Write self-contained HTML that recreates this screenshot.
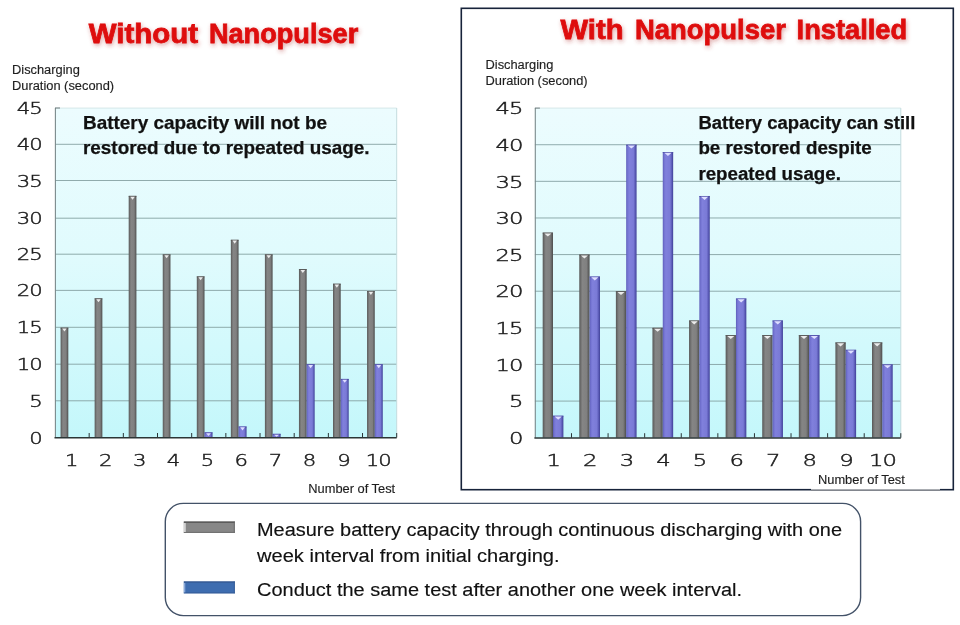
<!DOCTYPE html>
<html lang="en"><head><meta charset="utf-8"><title>Nanopulser battery test</title>
<style>html,body{margin:0;padding:0;background:#fff}svg{display:block}</style>
</head><body>
<svg width="960" height="625" viewBox="0 0 960 625">
<defs>
<linearGradient id="bg" x1="0" y1="0" x2="0" y2="1"><stop offset="0" stop-color="#ecfcfe"/><stop offset="0.45" stop-color="#e0fbfd"/><stop offset="1" stop-color="#c4f7fb"/></linearGradient>
<linearGradient id="gG" x1="0" y1="0" x2="1" y2="0"><stop offset="0" stop-color="#565656"/><stop offset="0.14" stop-color="#6e6e6e"/><stop offset="0.3" stop-color="#858585"/><stop offset="0.7" stop-color="#808080"/><stop offset="0.86" stop-color="#666"/><stop offset="1" stop-color="#4c4c4c"/></linearGradient>
<linearGradient id="gB" x1="0" y1="0" x2="1" y2="0"><stop offset="0" stop-color="#5d5db8"/><stop offset="0.14" stop-color="#7474d2"/><stop offset="0.3" stop-color="#8080dc"/><stop offset="0.7" stop-color="#7a7ad6"/><stop offset="0.86" stop-color="#5c5cb8"/><stop offset="1" stop-color="#3e3e96"/></linearGradient>
<filter id="glow" x="-10%" y="-40%" width="120%" height="200%"><feGaussianBlur in="SourceAlpha" stdDeviation="1.9" result="b"/><feOffset in="b" dx="0.6" dy="1.6" result="o"/><feFlood flood-color="#b03030" flood-opacity="0.42"/><feComposite in2="o" operator="in" result="s"/><feMerge><feMergeNode in="s"/><feMergeNode in="SourceGraphic"/></feMerge></filter>
</defs>
<style>
text{font-family:"Liberation Sans",sans-serif;fill:#1a1a1a}
.num{font-family:"DejaVu Sans","Liberation Sans",sans-serif;font-weight:200;font-size:15.7px;fill:#1c1c1c;stroke:#1c1c1c;stroke-width:0.42px;letter-spacing:-0.7px}
.ax{font-size:12.85px;fill:#1e1e1e;stroke:#1e1e1e;stroke-width:0.15px}
.ttl{font-weight:bold;font-size:27.8px;fill:#de0c0c;stroke:#de0c0c;stroke-width:0.8px}
.note{font-weight:bold;font-size:17.9px;fill:#111;stroke:#111;stroke-width:0.25px}
.leg{font-size:18.8px;fill:#111;stroke:#111;stroke-width:0.15px}
</style>
<rect width="960" height="625" fill="#fff"/>

<rect x="461.3" y="8.3" width="492" height="481.4" fill="#fff" stroke="#17233a" stroke-width="1.6"/>
<rect x="811" y="470" width="129" height="22" fill="#fff"/>
<line x1="811" y1="490.1" x2="940" y2="490.1" stroke="#2e3542" stroke-width="1"/>
<rect x="55" y="108" width="341.7" height="329.5" fill="url(#bg)"/>
<line x1="55" y1="400.8" x2="396.7" y2="400.8" stroke="#86a2a3" stroke-width="0.9"/>
<line x1="55" y1="364.2" x2="396.7" y2="364.2" stroke="#86a2a3" stroke-width="0.9"/>
<line x1="55" y1="327.3" x2="396.7" y2="327.3" stroke="#86a2a3" stroke-width="0.9"/>
<line x1="55" y1="290.4" x2="396.7" y2="290.4" stroke="#86a2a3" stroke-width="0.9"/>
<line x1="55" y1="254.2" x2="396.7" y2="254.2" stroke="#86a2a3" stroke-width="0.9"/>
<line x1="55" y1="218.2" x2="396.7" y2="218.2" stroke="#86a2a3" stroke-width="0.9"/>
<line x1="55" y1="180.5" x2="396.7" y2="180.5" stroke="#86a2a3" stroke-width="0.9"/>
<line x1="55" y1="144.3" x2="396.7" y2="144.3" stroke="#86a2a3" stroke-width="0.9"/>
<line x1="55" y1="108.1" x2="396.7" y2="108.1" stroke="#d3e4e5" stroke-width="0.9"/>
<line x1="396.7" y1="108" x2="396.7" y2="437.5" stroke="#c3dcde" stroke-width="1"/>
<line x1="89.17" y1="433" x2="89.17" y2="437.5" stroke="#2a3436" stroke-width="1"/>
<line x1="123.34" y1="433" x2="123.34" y2="437.5" stroke="#2a3436" stroke-width="1"/>
<line x1="157.51" y1="433" x2="157.51" y2="437.5" stroke="#2a3436" stroke-width="1"/>
<line x1="191.68" y1="433" x2="191.68" y2="437.5" stroke="#2a3436" stroke-width="1"/>
<line x1="225.85" y1="433" x2="225.85" y2="437.5" stroke="#2a3436" stroke-width="1"/>
<line x1="260.02" y1="433" x2="260.02" y2="437.5" stroke="#2a3436" stroke-width="1"/>
<line x1="294.19" y1="433" x2="294.19" y2="437.5" stroke="#2a3436" stroke-width="1"/>
<line x1="328.36" y1="433" x2="328.36" y2="437.5" stroke="#2a3436" stroke-width="1"/>
<line x1="362.53" y1="433" x2="362.53" y2="437.5" stroke="#2a3436" stroke-width="1"/>
<line x1="396.7" y1="433" x2="396.7" y2="437.5" stroke="#2a3436" stroke-width="1"/>
<rect x="60.6" y="327.67" width="7.7" height="109.83" fill="url(#gG)"/><rect x="60.6" y="327.67" width="7.7" height="0.9" fill="#565656"/><path d="M62.2 328.47 L66.7 328.47 L64.45 331.57 Z" fill="#ececec"/>
<rect x="94.65" y="298.38" width="7.7" height="139.12" fill="url(#gG)"/><rect x="94.65" y="298.38" width="7.7" height="0.9" fill="#565656"/><path d="M96.25 299.18 L100.75 299.18 L98.5 302.28 Z" fill="#ececec"/>
<rect x="128.7" y="195.87" width="7.7" height="241.63" fill="url(#gG)"/><rect x="128.7" y="195.87" width="7.7" height="0.9" fill="#565656"/><path d="M130.3 196.67 L134.8 196.67 L132.55 199.77 Z" fill="#ececec"/>
<rect x="162.75" y="254.44" width="7.7" height="183.06" fill="url(#gG)"/><rect x="162.75" y="254.44" width="7.7" height="0.9" fill="#565656"/><path d="M164.35 255.24 L168.85 255.24 L166.6 258.34 Z" fill="#ececec"/>
<rect x="196.8" y="276.41" width="7.7" height="161.09" fill="url(#gG)"/><rect x="196.8" y="276.41" width="7.7" height="0.9" fill="#565656"/><path d="M198.4 277.21 L202.9 277.21 L200.65 280.31 Z" fill="#ececec"/>
<rect x="204.5" y="432.37" width="8" height="5.13" fill="url(#gB)"/><rect x="204.5" y="432.37" width="8" height="0.9" fill="#5050a8"/><path d="M206.1 433.17 L210.9 433.17 L208.5 436.09 Z" fill="#dedeff"/>
<rect x="230.85" y="239.8" width="7.7" height="197.7" fill="url(#gG)"/><rect x="230.85" y="239.8" width="7.7" height="0.9" fill="#565656"/><path d="M232.45 240.6 L236.95 240.6 L234.7 243.7 Z" fill="#ececec"/>
<rect x="238.55" y="426.52" width="8" height="10.98" fill="url(#gB)"/><rect x="238.55" y="426.52" width="8" height="0.9" fill="#5050a8"/><path d="M240.15 427.32 L244.95 427.32 L242.55 430.42 Z" fill="#dedeff"/>
<rect x="264.9" y="254.44" width="7.7" height="183.06" fill="url(#gG)"/><rect x="264.9" y="254.44" width="7.7" height="0.9" fill="#565656"/><path d="M266.5 255.24 L271 255.24 L268.75 258.34 Z" fill="#ececec"/>
<rect x="272.6" y="433.84" width="8" height="3.66" fill="url(#gB)"/><rect x="272.6" y="433.84" width="8" height="0.9" fill="#5050a8"/><path d="M274.2 434.64 L279 434.64 L276.6 436.75 Z" fill="#dedeff"/>
<rect x="298.95" y="269.09" width="7.7" height="168.41" fill="url(#gG)"/><rect x="298.95" y="269.09" width="7.7" height="0.9" fill="#565656"/><path d="M300.55 269.89 L305.05 269.89 L302.8 272.99 Z" fill="#ececec"/>
<rect x="306.65" y="364.28" width="8" height="73.22" fill="url(#gB)"/><rect x="306.65" y="364.28" width="8" height="0.9" fill="#5050a8"/><path d="M308.25 365.08 L313.05 365.08 L310.65 368.18 Z" fill="#dedeff"/>
<rect x="333" y="283.73" width="7.7" height="153.77" fill="url(#gG)"/><rect x="333" y="283.73" width="7.7" height="0.9" fill="#565656"/><path d="M334.6 284.53 L339.1 284.53 L336.85 287.63 Z" fill="#ececec"/>
<rect x="340.7" y="378.92" width="8" height="58.58" fill="url(#gB)"/><rect x="340.7" y="378.92" width="8" height="0.9" fill="#5050a8"/><path d="M342.3 379.72 L347.1 379.72 L344.7 382.82 Z" fill="#dedeff"/>
<rect x="367.05" y="291.06" width="7.7" height="146.44" fill="url(#gG)"/><rect x="367.05" y="291.06" width="7.7" height="0.9" fill="#565656"/><path d="M368.65 291.86 L373.15 291.86 L370.9 294.96 Z" fill="#ececec"/>
<rect x="374.75" y="364.28" width="8" height="73.22" fill="url(#gB)"/><rect x="374.75" y="364.28" width="8" height="0.9" fill="#5050a8"/><path d="M376.35 365.08 L381.15 365.08 L378.75 368.18 Z" fill="#dedeff"/>
<line x1="55.4" y1="108" x2="55.4" y2="437.5" stroke="#7b8a8c" stroke-width="1.1"/>
<line x1="55" y1="108" x2="60" y2="108" stroke="#6f7b7c" stroke-width="1"/>
<line x1="54.5" y1="437.8" x2="396.7" y2="437.8" stroke="#2b3536" stroke-width="1.6"/>
<text class="num" transform="translate(41.9 443.5) scale(1.35 1)" text-anchor="end">0</text>
<text class="num" transform="translate(41.9 406.8) scale(1.35 1)" text-anchor="end">5</text>
<text class="num" transform="translate(41.9 370.2) scale(1.35 1)" text-anchor="end">10</text>
<text class="num" transform="translate(41.9 333.3) scale(1.35 1)" text-anchor="end">15</text>
<text class="num" transform="translate(41.9 296.4) scale(1.35 1)" text-anchor="end">20</text>
<text class="num" transform="translate(41.9 260.2) scale(1.35 1)" text-anchor="end">25</text>
<text class="num" transform="translate(41.9 224.2) scale(1.35 1)" text-anchor="end">30</text>
<text class="num" transform="translate(41.9 186.5) scale(1.35 1)" text-anchor="end">35</text>
<text class="num" transform="translate(41.9 150.3) scale(1.35 1)" text-anchor="end">40</text>
<text class="num" transform="translate(41.9 114.1) scale(1.35 1)" text-anchor="end">45</text>
<text class="num" transform="translate(71.29 465.6) scale(1.35 1)" text-anchor="middle">1</text>
<text class="num" transform="translate(105.35 465.6) scale(1.35 1)" text-anchor="middle">2</text>
<text class="num" transform="translate(139.33 465.6) scale(1.35 1)" text-anchor="middle">3</text>
<text class="num" transform="translate(172.9 465.6) scale(1.35 1)" text-anchor="middle">4</text>
<text class="num" transform="translate(207.07 465.6) scale(1.35 1)" text-anchor="middle">5</text>
<text class="num" transform="translate(240.84 465.6) scale(1.35 1)" text-anchor="middle">6</text>
<text class="num" transform="translate(275.11 465.6) scale(1.35 1)" text-anchor="middle">7</text>
<text class="num" transform="translate(309.08 465.6) scale(1.35 1)" text-anchor="middle">8</text>
<text class="num" transform="translate(343.44 465.6) scale(1.35 1)" text-anchor="middle">9</text>
<text class="num" transform="translate(378.31 465.6) scale(1.35 1)" text-anchor="middle">10</text>
<rect x="534.9" y="108.1" width="365.9" height="329.6" fill="url(#bg)"/>
<line x1="534.9" y1="401.08" x2="900.8" y2="401.08" stroke="#86a2a3" stroke-width="0.9"/>
<line x1="534.9" y1="364.46" x2="900.8" y2="364.46" stroke="#86a2a3" stroke-width="0.9"/>
<line x1="534.9" y1="327.83" x2="900.8" y2="327.83" stroke="#86a2a3" stroke-width="0.9"/>
<line x1="534.9" y1="291.21" x2="900.8" y2="291.21" stroke="#86a2a3" stroke-width="0.9"/>
<line x1="534.9" y1="254.59" x2="900.8" y2="254.59" stroke="#86a2a3" stroke-width="0.9"/>
<line x1="534.9" y1="217.97" x2="900.8" y2="217.97" stroke="#86a2a3" stroke-width="0.9"/>
<line x1="534.9" y1="181.34" x2="900.8" y2="181.34" stroke="#86a2a3" stroke-width="0.9"/>
<line x1="534.9" y1="144.72" x2="900.8" y2="144.72" stroke="#86a2a3" stroke-width="0.9"/>
<line x1="534.9" y1="108.1" x2="900.8" y2="108.1" stroke="#d3e4e5" stroke-width="0.9"/>
<line x1="900.8" y1="108.1" x2="900.8" y2="437.7" stroke="#c3dcde" stroke-width="1"/>
<line x1="571.49" y1="433.2" x2="571.49" y2="437.7" stroke="#2a3436" stroke-width="1"/>
<line x1="608.08" y1="433.2" x2="608.08" y2="437.7" stroke="#2a3436" stroke-width="1"/>
<line x1="644.67" y1="433.2" x2="644.67" y2="437.7" stroke="#2a3436" stroke-width="1"/>
<line x1="681.26" y1="433.2" x2="681.26" y2="437.7" stroke="#2a3436" stroke-width="1"/>
<line x1="717.85" y1="433.2" x2="717.85" y2="437.7" stroke="#2a3436" stroke-width="1"/>
<line x1="754.44" y1="433.2" x2="754.44" y2="437.7" stroke="#2a3436" stroke-width="1"/>
<line x1="791.03" y1="433.2" x2="791.03" y2="437.7" stroke="#2a3436" stroke-width="1"/>
<line x1="827.62" y1="433.2" x2="827.62" y2="437.7" stroke="#2a3436" stroke-width="1"/>
<line x1="864.21" y1="433.2" x2="864.21" y2="437.7" stroke="#2a3436" stroke-width="1"/>
<line x1="900.8" y1="433.2" x2="900.8" y2="437.7" stroke="#2a3436" stroke-width="1"/>
<rect x="542.69" y="232.62" width="10.3" height="205.08" fill="url(#gG)"/><rect x="542.69" y="232.62" width="10.3" height="0.9" fill="#565656"/><path d="M544.29 233.42 L551.39 233.42 L547.84 236.52 Z" fill="#ececec"/>
<rect x="552.99" y="415.73" width="10.4" height="21.97" fill="url(#gB)"/><rect x="552.99" y="415.73" width="10.4" height="0.9" fill="#5050a8"/><path d="M554.59 416.53 L561.79 416.53 L558.19 419.63 Z" fill="#dedeff"/>
<rect x="579.28" y="254.59" width="10.3" height="183.11" fill="url(#gG)"/><rect x="579.28" y="254.59" width="10.3" height="0.9" fill="#565656"/><path d="M580.88 255.39 L587.98 255.39 L584.43 258.49 Z" fill="#ececec"/>
<rect x="589.58" y="276.56" width="10.4" height="161.14" fill="url(#gB)"/><rect x="589.58" y="276.56" width="10.4" height="0.9" fill="#5050a8"/><path d="M591.18 277.36 L598.38 277.36 L594.78 280.46 Z" fill="#dedeff"/>
<rect x="615.88" y="291.21" width="10.3" height="146.49" fill="url(#gG)"/><rect x="615.88" y="291.21" width="10.3" height="0.9" fill="#565656"/><path d="M617.48 292.01 L624.57 292.01 L621.02 295.11 Z" fill="#ececec"/>
<rect x="626.17" y="144.72" width="10.4" height="292.98" fill="url(#gB)"/><rect x="626.17" y="144.72" width="10.4" height="0.9" fill="#5050a8"/><path d="M627.77 145.52 L634.98 145.52 L631.38 148.62 Z" fill="#dedeff"/>
<rect x="652.46" y="327.83" width="10.3" height="109.87" fill="url(#gG)"/><rect x="652.46" y="327.83" width="10.3" height="0.9" fill="#565656"/><path d="M654.06 328.63 L661.16 328.63 L657.61 331.73 Z" fill="#ececec"/>
<rect x="662.76" y="152.05" width="10.4" height="285.65" fill="url(#gB)"/><rect x="662.76" y="152.05" width="10.4" height="0.9" fill="#5050a8"/><path d="M664.36 152.85 L671.56 152.85 L667.96 155.95 Z" fill="#dedeff"/>
<rect x="689.06" y="320.51" width="10.3" height="117.19" fill="url(#gG)"/><rect x="689.06" y="320.51" width="10.3" height="0.9" fill="#565656"/><path d="M690.66 321.31 L697.75 321.31 L694.21 324.41 Z" fill="#ececec"/>
<rect x="699.36" y="195.99" width="10.4" height="241.71" fill="url(#gB)"/><rect x="699.36" y="195.99" width="10.4" height="0.9" fill="#5050a8"/><path d="M700.96 196.79 L708.16 196.79 L704.56 199.89 Z" fill="#dedeff"/>
<rect x="725.64" y="335.16" width="10.3" height="102.54" fill="url(#gG)"/><rect x="725.64" y="335.16" width="10.3" height="0.9" fill="#565656"/><path d="M727.25 335.96 L734.34 335.96 L730.79 339.06 Z" fill="#ececec"/>
<rect x="735.94" y="298.54" width="10.4" height="139.16" fill="url(#gB)"/><rect x="735.94" y="298.54" width="10.4" height="0.9" fill="#5050a8"/><path d="M737.54 299.34 L744.75 299.34 L741.14 302.44 Z" fill="#dedeff"/>
<rect x="762.24" y="335.16" width="10.3" height="102.54" fill="url(#gG)"/><rect x="762.24" y="335.16" width="10.3" height="0.9" fill="#565656"/><path d="M763.84 335.96 L770.93 335.96 L767.38 339.06 Z" fill="#ececec"/>
<rect x="772.53" y="320.51" width="10.4" height="117.19" fill="url(#gB)"/><rect x="772.53" y="320.51" width="10.4" height="0.9" fill="#5050a8"/><path d="M774.13 321.31 L781.34 321.31 L777.74 324.41 Z" fill="#dedeff"/>
<rect x="798.83" y="335.16" width="10.3" height="102.54" fill="url(#gG)"/><rect x="798.83" y="335.16" width="10.3" height="0.9" fill="#565656"/><path d="M800.43 335.96 L807.52 335.96 L803.98 339.06 Z" fill="#ececec"/>
<rect x="809.12" y="335.16" width="10.4" height="102.54" fill="url(#gB)"/><rect x="809.12" y="335.16" width="10.4" height="0.9" fill="#5050a8"/><path d="M810.73 335.96 L817.93 335.96 L814.33 339.06 Z" fill="#dedeff"/>
<rect x="835.41" y="342.48" width="10.3" height="95.22" fill="url(#gG)"/><rect x="835.41" y="342.48" width="10.3" height="0.9" fill="#565656"/><path d="M837.01 343.28 L844.11 343.28 L840.56 346.38 Z" fill="#ececec"/>
<rect x="845.71" y="349.81" width="10.4" height="87.89" fill="url(#gB)"/><rect x="845.71" y="349.81" width="10.4" height="0.9" fill="#5050a8"/><path d="M847.31 350.61 L854.51 350.61 L850.91 353.71 Z" fill="#dedeff"/>
<rect x="872" y="342.48" width="10.3" height="95.22" fill="url(#gG)"/><rect x="872" y="342.48" width="10.3" height="0.9" fill="#565656"/><path d="M873.61 343.28 L880.7 343.28 L877.15 346.38 Z" fill="#ececec"/>
<rect x="882.3" y="364.46" width="10.4" height="73.24" fill="url(#gB)"/><rect x="882.3" y="364.46" width="10.4" height="0.9" fill="#5050a8"/><path d="M883.9 365.26 L891.11 365.26 L887.5 368.36 Z" fill="#dedeff"/>
<line x1="535.3" y1="108.1" x2="535.3" y2="437.7" stroke="#7b8a8c" stroke-width="1.1"/>
<line x1="534.9" y1="108.1" x2="539.9" y2="108.1" stroke="#6f7b7c" stroke-width="1"/>
<line x1="534.4" y1="438" x2="900.8" y2="438" stroke="#2b3536" stroke-width="1.6"/>
<text class="num" transform="translate(522.4 443.9) scale(1.45 1)" text-anchor="end">0</text>
<text class="num" transform="translate(522.4 407.28) scale(1.45 1)" text-anchor="end">5</text>
<text class="num" transform="translate(522.4 370.66) scale(1.45 1)" text-anchor="end">10</text>
<text class="num" transform="translate(522.4 334.03) scale(1.45 1)" text-anchor="end">15</text>
<text class="num" transform="translate(522.4 297.41) scale(1.45 1)" text-anchor="end">20</text>
<text class="num" transform="translate(522.4 260.79) scale(1.45 1)" text-anchor="end">25</text>
<text class="num" transform="translate(522.4 224.17) scale(1.45 1)" text-anchor="end">30</text>
<text class="num" transform="translate(522.4 187.54) scale(1.45 1)" text-anchor="end">35</text>
<text class="num" transform="translate(522.4 150.92) scale(1.45 1)" text-anchor="end">40</text>
<text class="num" transform="translate(522.4 114.3) scale(1.45 1)" text-anchor="end">45</text>
<text class="num" transform="translate(553.19 465.8) scale(1.45 1)" text-anchor="middle">1</text>
<text class="num" transform="translate(589.78 465.8) scale(1.45 1)" text-anchor="middle">2</text>
<text class="num" transform="translate(626.38 465.8) scale(1.45 1)" text-anchor="middle">3</text>
<text class="num" transform="translate(662.96 465.8) scale(1.45 1)" text-anchor="middle">4</text>
<text class="num" transform="translate(699.56 465.8) scale(1.45 1)" text-anchor="middle">5</text>
<text class="num" transform="translate(736.14 465.8) scale(1.45 1)" text-anchor="middle">6</text>
<text class="num" transform="translate(772.74 465.8) scale(1.45 1)" text-anchor="middle">7</text>
<text class="num" transform="translate(809.33 465.8) scale(1.45 1)" text-anchor="middle">8</text>
<text class="num" transform="translate(845.91 465.8) scale(1.45 1)" text-anchor="middle">9</text>
<text class="num" transform="translate(882.5 465.8) scale(1.45 1)" text-anchor="middle">10</text>
<g filter="url(#glow)"><text class="ttl" x="88.7" y="43.4" textLength="109.3" lengthAdjust="spacingAndGlyphs">Without</text><text class="ttl" x="208.9" y="43.4" textLength="149.4" lengthAdjust="spacingAndGlyphs">Nanopulser</text></g>
<g filter="url(#glow)"><text class="ttl" x="560.5" y="39.3" textLength="63" lengthAdjust="spacingAndGlyphs">With</text><text class="ttl" x="635" y="39.3" textLength="150.9" lengthAdjust="spacingAndGlyphs">Nanopulser</text><text class="ttl" x="796.6" y="39.3" textLength="110.6" lengthAdjust="spacingAndGlyphs">Installed</text></g>
<text class="ax" x="12" y="74.1">Discharging</text>
<text class="ax" x="12" y="89.6">Duration (second)</text>
<text class="ax" x="485.5" y="69.1">Discharging</text>
<text class="ax" x="485.5" y="84.6">Duration (second)</text>
<text class="ax" x="308.3" y="492.6">Number of Test</text>
<text class="ax" x="818" y="483.7">Number of Test</text>
<text class="note" x="83" y="128.6" textLength="244" lengthAdjust="spacingAndGlyphs">Battery capacity will not be</text>
<text class="note" x="83" y="154.2" textLength="286.5" lengthAdjust="spacingAndGlyphs">restored due to repeated usage.</text>
<text class="note" x="698.4" y="129.1" style="font-size:18.3px" textLength="217" lengthAdjust="spacingAndGlyphs">Battery capacity can still</text>
<text class="note" x="698.4" y="154.0" style="font-size:18.3px" textLength="173.3" lengthAdjust="spacingAndGlyphs">be restored despite</text>
<text class="note" x="698.4" y="180.2" style="font-size:18.3px" textLength="142.5" lengthAdjust="spacingAndGlyphs">repeated usage.</text>
<rect x="165.3" y="503.4" width="695.3" height="112.2" rx="18" ry="18" fill="#fff" stroke="#435268" stroke-width="1.4"/>
<rect x="183.8" y="521.6" width="51" height="11.2" fill="#878787"/>
<path d="M183.8 522.1H234.8" stroke="#4c4c4c" stroke-width="1.1" fill="none"/>
<path d="M234.3 521.6V532.8M183.8 532.4H234.8" stroke="#666" stroke-width="0.9" fill="none"/>
<rect x="183.8" y="523" width="2" height="9" fill="#d2d2d2"/>
<rect x="183.8" y="581.5" width="51" height="11.8" fill="#3e6db0"/>
<path d="M183.8 582H234.8" stroke="#2e5185" stroke-width="1.1" fill="none"/>
<path d="M234.3 581.5V593.3M183.8 592.9H234.8" stroke="#335a94" stroke-width="0.9" fill="none"/>
<rect x="183.8" y="583" width="1.5" height="9.4" fill="#8aa9d8"/>
<text class="leg" x="257" y="535.5" textLength="585" lengthAdjust="spacingAndGlyphs">Measure battery capacity through continuous discharging with one</text>
<text class="leg" x="257" y="562" textLength="302.6" lengthAdjust="spacingAndGlyphs">week interval from initial charging.</text>
<text class="leg" x="257" y="596" textLength="485" lengthAdjust="spacingAndGlyphs">Conduct the same test after another one week interval.</text>
</svg>
</body></html>
